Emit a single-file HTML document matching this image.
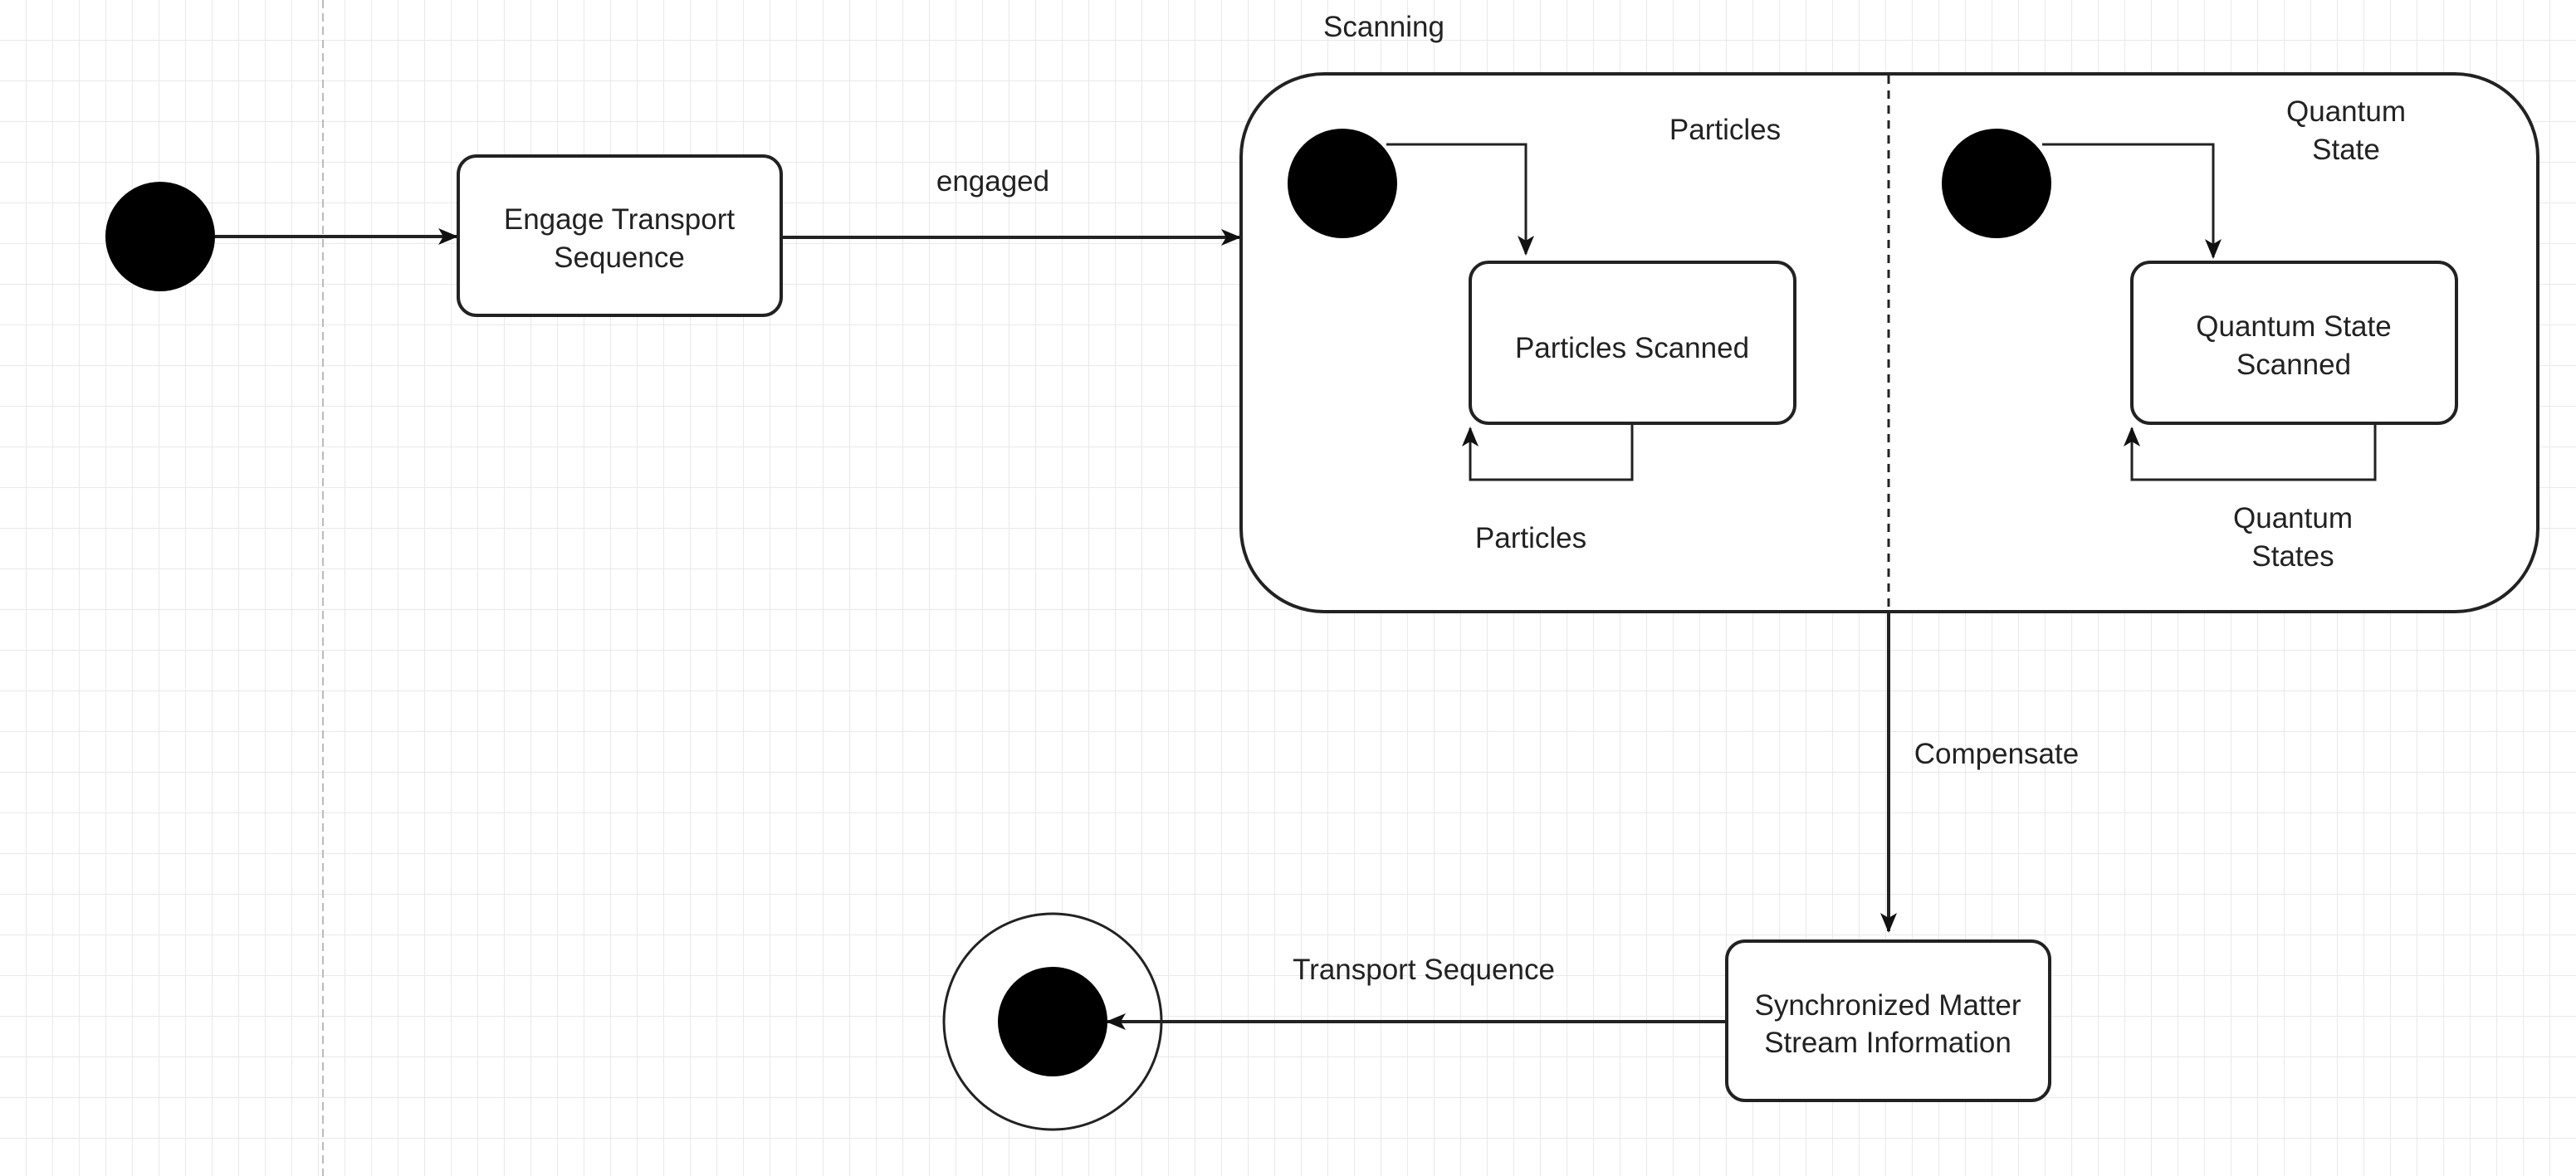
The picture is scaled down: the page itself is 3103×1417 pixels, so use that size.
<!DOCTYPE html>
<html><head><meta charset="utf-8"><style>
html,body{margin:0;padding:0;background:#fff}
svg{display:block}
text{font-family:"Liberation Sans",sans-serif;font-size:35px;fill:#222}
</style></head><body>
<svg width="3103" height="1417" viewBox="0 0 3103 1417" xmlns="http://www.w3.org/2000/svg">
<defs>
<pattern id="g" width="32" height="49" patternUnits="userSpaceOnUse">
<path d="M32 0V49M0 49H32" stroke="#e9e9e9" stroke-width="2" fill="none"/>
</pattern>
<marker id="b" markerWidth="24" markerHeight="24" refX="22" refY="12" orient="auto" markerUnits="userSpaceOnUse" viewBox="0 0 24 24">
<path d="M0 2L24 12L0 22L6 12Z" fill="#111"/>
</marker>
</defs>
<rect width="3103" height="1417" fill="url(#g)"/>
<line x1="389" y1="0" x2="389" y2="1417" stroke="#bbb" stroke-width="2" stroke-dasharray="10,6"/>

<!-- initial -->
<ellipse cx="193" cy="285" rx="66" ry="66" fill="#000"/>
<line x1="259" y1="285" x2="550" y2="285" stroke="#222" stroke-width="4" marker-end="url(#b)"/>
<rect x="552" y="188" width="389" height="192" rx="22" fill="#fff" stroke="#222" stroke-width="4"/>
<text x="746" y="276" text-anchor="middle">Engage Transport</text>
<text x="746" y="322" text-anchor="middle">Sequence</text>
<text x="1196" y="230" text-anchor="middle">engaged</text>
<line x1="941" y1="286" x2="1493" y2="286" stroke="#222" stroke-width="4" marker-end="url(#b)"/>

<!-- composite -->
<text x="1667" y="44" text-anchor="middle">Scanning</text>
<rect x="1495" y="89" width="1562" height="648" rx="100" fill="#fff" stroke="#222" stroke-width="4"/>
<line x1="2275" y1="91" x2="2275" y2="735" stroke="#222" stroke-width="3" stroke-dasharray="10,8"/>

<ellipse cx="1617" cy="221" rx="66" ry="66" fill="#000"/>
<polyline points="1670,174 1838,174 1838,306" fill="none" stroke="#222" stroke-width="3" marker-end="url(#b)"/>
<text x="2078" y="168" text-anchor="middle">Particles</text>
<rect x="1771" y="316" width="391" height="194" rx="22" fill="#fff" stroke="#222" stroke-width="4"/>
<text x="1966" y="431" text-anchor="middle">Particles Scanned</text>
<polyline points="1966,510 1966,578 1771,578 1771,516" fill="none" stroke="#222" stroke-width="3" marker-end="url(#b)"/>
<text x="1844" y="660" text-anchor="middle">Particles</text>

<ellipse cx="2405" cy="221" rx="66" ry="66" fill="#000"/>
<polyline points="2460,174 2666,174 2666,310" fill="none" stroke="#222" stroke-width="3" marker-end="url(#b)"/>
<text x="2826" y="146" text-anchor="middle">Quantum</text>
<text x="2826" y="192" text-anchor="middle">State</text>
<rect x="2568" y="316" width="391" height="194" rx="22" fill="#fff" stroke="#222" stroke-width="4"/>
<text x="2763" y="405" text-anchor="middle">Quantum State</text>
<text x="2763" y="451" text-anchor="middle">Scanned</text>
<polyline points="2861,510 2861,578 2568,578 2568,516" fill="none" stroke="#222" stroke-width="3" marker-end="url(#b)"/>
<text x="2762" y="636" text-anchor="middle">Quantum</text>
<text x="2762" y="682" text-anchor="middle">States</text>

<!-- compensate -->
<line x1="2275" y1="737" x2="2275" y2="1122" stroke="#222" stroke-width="4" marker-end="url(#b)"/>
<text x="2405" y="920" text-anchor="middle">Compensate</text>
<rect x="2080" y="1134" width="389" height="192" rx="22" fill="#fff" stroke="#222" stroke-width="4"/>
<text x="2274" y="1223" text-anchor="middle">Synchronized Matter</text>
<text x="2274" y="1268" text-anchor="middle">Stream Information</text>

<!-- final -->
<ellipse cx="1268" cy="1231" rx="131" ry="130" fill="#fff" stroke="#222" stroke-width="3"/>
<ellipse cx="1268" cy="1231" rx="66" ry="66" fill="#000"/>
<line x1="2080" y1="1231" x2="1334" y2="1231" stroke="#222" stroke-width="4" marker-end="url(#b)"/>
<text x="1715" y="1180" text-anchor="middle">Transport Sequence</text>
</svg>
</body></html>
